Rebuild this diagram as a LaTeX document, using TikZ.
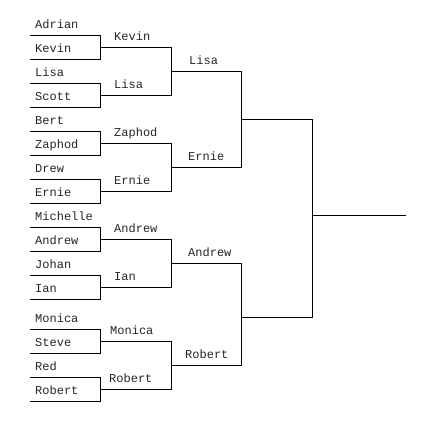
\documentclass[tikz,border=0pt]{standalone}
\usepackage{fontspec}
\newfontfamily\monofam{Liberation Mono}
\begin{document}
\begin{tikzpicture}[x=1pt,y=-1pt,
  pname/.style={anchor=base west, inner sep=0pt, font={\monofam\fontsize{12}{14}\selectfont}, text=black!85},
  bline/.style={line width=1pt, black}]
\useasboundingbox (0,0) rectangle (426,421);
% round 1 slot ends
\coordinate (a1l) at (30,35);   \coordinate (a1r) at (100,35);
\coordinate (a2l) at (30,59);   \coordinate (a2r) at (100,59);
\coordinate (a3l) at (30,83);   \coordinate (a3r) at (100,83);
\coordinate (a4l) at (30,107);  \coordinate (a4r) at (100,107);
\coordinate (a5l) at (30,131);  \coordinate (a5r) at (100,131);
\coordinate (a6l) at (30,155);  \coordinate (a6r) at (100,155);
\coordinate (a7l) at (30,179);  \coordinate (a7r) at (100,179);
\coordinate (a8l) at (30,203);  \coordinate (a8r) at (100,203);
\coordinate (a9l) at (30,227);  \coordinate (a9r) at (100,227);
\coordinate (a10l) at (30,251); \coordinate (a10r) at (100,251);
\coordinate (a11l) at (30,275); \coordinate (a11r) at (100,275);
\coordinate (a12l) at (30,299); \coordinate (a12r) at (100,299);
\coordinate (a13l) at (30,329); \coordinate (a13r) at (100,329);
\coordinate (a14l) at (30,353); \coordinate (a14r) at (100,353);
\coordinate (a15l) at (30,377); \coordinate (a15r) at (100,377);
\coordinate (a16l) at (30,401); \coordinate (a16r) at (100,401);
% round 2 slot ends
\coordinate (b1l) at (100,47);  \coordinate (b1r) at (171,47);
\coordinate (b2l) at (100,95);  \coordinate (b2r) at (171,95);
\coordinate (b3l) at (100,143); \coordinate (b3r) at (171,143);
\coordinate (b4l) at (100,191); \coordinate (b4r) at (171,191);
\coordinate (b5l) at (100,239); \coordinate (b5r) at (171,239);
\coordinate (b6l) at (100,287); \coordinate (b6r) at (171,287);
\coordinate (b7l) at (100,341); \coordinate (b7r) at (171,341);
\coordinate (b8l) at (100,389); \coordinate (b8r) at (171,389);
% round 3 slot ends
\coordinate (c1l) at (171,71);  \coordinate (c1r) at (241.5,71);
\coordinate (c2l) at (171,167); \coordinate (c2r) at (241.5,167);
\coordinate (c3l) at (171,263); \coordinate (c3r) at (241.5,263);
\coordinate (c4l) at (171,365); \coordinate (c4r) at (241.5,365);
% round 4 slot ends
\coordinate (d1l) at (241.5,119); \coordinate (d1r) at (312.5,119);
\coordinate (d2l) at (241.5,317); \coordinate (d2r) at (312.5,317);
% final
\coordinate (el) at (312.5,215); \coordinate (er) at (406,215);

% round 1 brackets
\draw[bline] (a1l) -- (a1r) -- (a2r) -- (a2l);
\draw[bline] (a3l) -- (a3r) -- (a4r) -- (a4l);
\draw[bline] (a5l) -- (a5r) -- (a6r) -- (a6l);
\draw[bline] (a7l) -- (a7r) -- (a8r) -- (a8l);
\draw[bline] (a9l) -- (a9r) -- (a10r) -- (a10l);
\draw[bline] (a11l) -- (a11r) -- (a12r) -- (a12l);
\draw[bline] (a13l) -- (a13r) -- (a14r) -- (a14l);
\draw[bline] (a15l) -- (a15r) -- (a16r) -- (a16l);
% round 2 brackets
\draw[bline] (b1l) -- (b1r) -- (b2r) -- (b2l);
\draw[bline] (b3l) -- (b3r) -- (b4r) -- (b4l);
\draw[bline] (b5l) -- (b5r) -- (b6r) -- (b6l);
\draw[bline] (b7l) -- (b7r) -- (b8r) -- (b8l);
% round 3 brackets
\draw[bline] (c1l) -- (c1r) -- (c2r) -- (c2l);
\draw[bline] (c3l) -- (c3r) -- (c4r) -- (c4l);
% round 4 bracket
\draw[bline] (d1l) -- (d1r) -- (d2r) -- (d2l);
% final line
\draw[bline] (el) -- (er);

% round 1 names
\node[pname] (p1)  at (35,28.5)  {Adrian};
\node[pname] (p2)  at (35,52.5)  {Kevin};
\node[pname] (p3)  at (35,76.5)  {Lisa};
\node[pname] (p4)  at (35,100.5) {Scott};
\node[pname] (p5)  at (35,124.5) {Bert};
\node[pname] (p6)  at (35,148.5) {Zaphod};
\node[pname] (p7)  at (35,172.5) {Drew};
\node[pname] (p8)  at (35,196.5) {Ernie};
\node[pname] (p9)  at (35,220.5) {Michelle};
\node[pname] (p10) at (35,244.5) {Andrew};
\node[pname] (p11) at (35,268.5) {Johan};
\node[pname] (p12) at (35,292.5) {Ian};
\node[pname] (p13) at (35,322.5) {Monica};
\node[pname] (p14) at (35,346.5) {Steve};
\node[pname] (p15) at (35,370.5) {Red};
\node[pname] (p16) at (35,394.5) {Robert};
% round 2 names
\node[pname] (q1) at (114,40.5)  {Kevin};
\node[pname] (q2) at (114,88.5)  {Lisa};
\node[pname] (q3) at (114,136.5) {Zaphod};
\node[pname] (q4) at (114,184.5) {Ernie};
\node[pname] (q5) at (114,232.5) {Andrew};
\node[pname] (q6) at (114,280.5) {Ian};
\node[pname] (q7) at (110,334.5) {Monica};
\node[pname] (q8) at (109,382.5) {Robert};
% round 3 names
\node[pname] (r1) at (189,64.5)  {Lisa};
\node[pname] (r2) at (188,160.5) {Ernie};
\node[pname] (r3) at (188,256.5) {Andrew};
\node[pname] (r4) at (185,358.5) {Robert};
\end{tikzpicture}
\end{document}
